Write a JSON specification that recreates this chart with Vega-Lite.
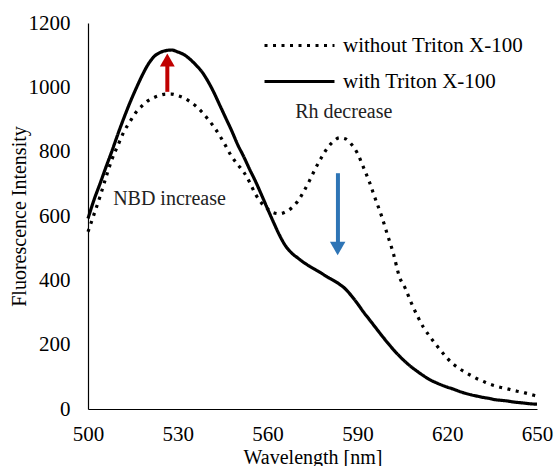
{
  "$schema": "https://vega.github.io/schema/vega-lite/v6.json",
  "autosize": "none",
  "width": 449,
  "height": 386,
  "padding": {"left": 88, "top": 23, "right": 18, "bottom": 57},
  "background": "white",
  "config": {
    "view": {"stroke": null},
    "font": "Liberation Serif",
    "axis": {"labelFont": "Liberation Serif", "titleFont": "Liberation Serif", "labelFontSize": 21, "titleFontSize": 20, "titleFontWeight": "normal", "labelColor": "#000", "titleColor": "#000", "domainColor": "#000", "domainWidth": 1.2, "ticks": false, "grid": false}
  },
  "datasets": {
    "spectra": [
      {"wl":500,"intensity":551,"series":"without Triton X-100"},
      {"wl":502,"intensity":605,"series":"without Triton X-100"},
      {"wl":504,"intensity":660,"series":"without Triton X-100"},
      {"wl":506,"intensity":720,"series":"without Triton X-100"},
      {"wl":508,"intensity":776,"series":"without Triton X-100"},
      {"wl":510,"intensity":820,"series":"without Triton X-100"},
      {"wl":512,"intensity":862,"series":"without Triton X-100"},
      {"wl":514,"intensity":893,"series":"without Triton X-100"},
      {"wl":516,"intensity":922,"series":"without Triton X-100"},
      {"wl":518,"intensity":942,"series":"without Triton X-100"},
      {"wl":520,"intensity":958,"series":"without Triton X-100"},
      {"wl":522,"intensity":968,"series":"without Triton X-100"},
      {"wl":524,"intensity":975,"series":"without Triton X-100"},
      {"wl":526,"intensity":979,"series":"without Triton X-100"},
      {"wl":528,"intensity":979,"series":"without Triton X-100"},
      {"wl":530,"intensity":974,"series":"without Triton X-100"},
      {"wl":532,"intensity":967,"series":"without Triton X-100"},
      {"wl":534,"intensity":956,"series":"without Triton X-100"},
      {"wl":536,"intensity":942,"series":"without Triton X-100"},
      {"wl":538,"intensity":924,"series":"without Triton X-100"},
      {"wl":540,"intensity":902,"series":"without Triton X-100"},
      {"wl":542,"intensity":878,"series":"without Triton X-100"},
      {"wl":544,"intensity":850,"series":"without Triton X-100"},
      {"wl":546,"intensity":818,"series":"without Triton X-100"},
      {"wl":548,"intensity":785,"series":"without Triton X-100"},
      {"wl":550,"intensity":760,"series":"without Triton X-100"},
      {"wl":552,"intensity":737,"series":"without Triton X-100"},
      {"wl":554,"intensity":705,"series":"without Triton X-100"},
      {"wl":556,"intensity":667,"series":"without Triton X-100"},
      {"wl":558,"intensity":640,"series":"without Triton X-100"},
      {"wl":560,"intensity":622,"series":"without Triton X-100"},
      {"wl":562,"intensity":610,"series":"without Triton X-100"},
      {"wl":564,"intensity":607,"series":"without Triton X-100"},
      {"wl":566,"intensity":613,"series":"without Triton X-100"},
      {"wl":568,"intensity":625,"series":"without Triton X-100"},
      {"wl":570,"intensity":645,"series":"without Triton X-100"},
      {"wl":572,"intensity":675,"series":"without Triton X-100"},
      {"wl":574,"intensity":710,"series":"without Triton X-100"},
      {"wl":576,"intensity":748,"series":"without Triton X-100"},
      {"wl":578,"intensity":782,"series":"without Triton X-100"},
      {"wl":580,"intensity":812,"series":"without Triton X-100"},
      {"wl":582,"intensity":832,"series":"without Triton X-100"},
      {"wl":584,"intensity":843,"series":"without Triton X-100"},
      {"wl":586,"intensity":840,"series":"without Triton X-100"},
      {"wl":588,"intensity":823,"series":"without Triton X-100"},
      {"wl":590,"intensity":795,"series":"without Triton X-100"},
      {"wl":592,"intensity":752,"series":"without Triton X-100"},
      {"wl":594,"intensity":706,"series":"without Triton X-100"},
      {"wl":596,"intensity":653,"series":"without Triton X-100"},
      {"wl":598,"intensity":602,"series":"without Triton X-100"},
      {"wl":600,"intensity":543,"series":"without Triton X-100"},
      {"wl":602,"intensity":484,"series":"without Triton X-100"},
      {"wl":604,"intensity":412,"series":"without Triton X-100"},
      {"wl":606,"intensity":375,"series":"without Triton X-100"},
      {"wl":608,"intensity":330,"series":"without Triton X-100"},
      {"wl":610,"intensity":290,"series":"without Triton X-100"},
      {"wl":612,"intensity":255,"series":"without Triton X-100"},
      {"wl":614,"intensity":228,"series":"without Triton X-100"},
      {"wl":616,"intensity":203,"series":"without Triton X-100"},
      {"wl":618,"intensity":180,"series":"without Triton X-100"},
      {"wl":620,"intensity":158,"series":"without Triton X-100"},
      {"wl":622,"intensity":140,"series":"without Triton X-100"},
      {"wl":624,"intensity":126,"series":"without Triton X-100"},
      {"wl":626,"intensity":114,"series":"without Triton X-100"},
      {"wl":628,"intensity":104,"series":"without Triton X-100"},
      {"wl":630,"intensity":94,"series":"without Triton X-100"},
      {"wl":632,"intensity":86,"series":"without Triton X-100"},
      {"wl":634,"intensity":78,"series":"without Triton X-100"},
      {"wl":636,"intensity":72,"series":"without Triton X-100"},
      {"wl":638,"intensity":67,"series":"without Triton X-100"},
      {"wl":640,"intensity":63,"series":"without Triton X-100"},
      {"wl":642,"intensity":58,"series":"without Triton X-100"},
      {"wl":644,"intensity":54,"series":"without Triton X-100"},
      {"wl":646,"intensity":50,"series":"without Triton X-100"},
      {"wl":648,"intensity":45,"series":"without Triton X-100"},
      {"wl":650,"intensity":40,"series":"without Triton X-100"},
      {"wl":500,"intensity":592,"series":"with Triton X-100"},
      {"wl":502,"intensity":650,"series":"with Triton X-100"},
      {"wl":504,"intensity":700,"series":"with Triton X-100"},
      {"wl":506,"intensity":752,"series":"with Triton X-100"},
      {"wl":508,"intensity":802,"series":"with Triton X-100"},
      {"wl":510,"intensity":855,"series":"with Triton X-100"},
      {"wl":512,"intensity":905,"series":"with Triton X-100"},
      {"wl":514,"intensity":952,"series":"with Triton X-100"},
      {"wl":516,"intensity":995,"series":"with Triton X-100"},
      {"wl":518,"intensity":1035,"series":"with Triton X-100"},
      {"wl":520,"intensity":1070,"series":"with Triton X-100"},
      {"wl":522,"intensity":1095,"series":"with Triton X-100"},
      {"wl":524,"intensity":1108,"series":"with Triton X-100"},
      {"wl":526,"intensity":1114,"series":"with Triton X-100"},
      {"wl":528,"intensity":1116,"series":"with Triton X-100"},
      {"wl":530,"intensity":1110,"series":"with Triton X-100"},
      {"wl":532,"intensity":1102,"series":"with Triton X-100"},
      {"wl":534,"intensity":1088,"series":"with Triton X-100"},
      {"wl":536,"intensity":1070,"series":"with Triton X-100"},
      {"wl":538,"intensity":1049,"series":"with Triton X-100"},
      {"wl":540,"intensity":1020,"series":"with Triton X-100"},
      {"wl":542,"intensity":985,"series":"with Triton X-100"},
      {"wl":544,"intensity":945,"series":"with Triton X-100"},
      {"wl":546,"intensity":905,"series":"with Triton X-100"},
      {"wl":548,"intensity":865,"series":"with Triton X-100"},
      {"wl":550,"intensity":822,"series":"with Triton X-100"},
      {"wl":552,"intensity":785,"series":"with Triton X-100"},
      {"wl":554,"intensity":745,"series":"with Triton X-100"},
      {"wl":556,"intensity":707,"series":"with Triton X-100"},
      {"wl":558,"intensity":665,"series":"with Triton X-100"},
      {"wl":560,"intensity":622,"series":"with Triton X-100"},
      {"wl":562,"intensity":580,"series":"with Triton X-100"},
      {"wl":564,"intensity":540,"series":"with Triton X-100"},
      {"wl":566,"intensity":507,"series":"with Triton X-100"},
      {"wl":568,"intensity":485,"series":"with Triton X-100"},
      {"wl":570,"intensity":470,"series":"with Triton X-100"},
      {"wl":572,"intensity":456,"series":"with Triton X-100"},
      {"wl":574,"intensity":444,"series":"with Triton X-100"},
      {"wl":576,"intensity":433,"series":"with Triton X-100"},
      {"wl":578,"intensity":422,"series":"with Triton X-100"},
      {"wl":580,"intensity":410,"series":"with Triton X-100"},
      {"wl":582,"intensity":400,"series":"with Triton X-100"},
      {"wl":584,"intensity":388,"series":"with Triton X-100"},
      {"wl":586,"intensity":373,"series":"with Triton X-100"},
      {"wl":588,"intensity":352,"series":"with Triton X-100"},
      {"wl":590,"intensity":328,"series":"with Triton X-100"},
      {"wl":592,"intensity":302,"series":"with Triton X-100"},
      {"wl":594,"intensity":278,"series":"with Triton X-100"},
      {"wl":596,"intensity":254,"series":"with Triton X-100"},
      {"wl":598,"intensity":230,"series":"with Triton X-100"},
      {"wl":600,"intensity":207,"series":"with Triton X-100"},
      {"wl":602,"intensity":185,"series":"with Triton X-100"},
      {"wl":604,"intensity":165,"series":"with Triton X-100"},
      {"wl":606,"intensity":147,"series":"with Triton X-100"},
      {"wl":608,"intensity":131,"series":"with Triton X-100"},
      {"wl":610,"intensity":117,"series":"with Triton X-100"},
      {"wl":612,"intensity":104,"series":"with Triton X-100"},
      {"wl":614,"intensity":92,"series":"with Triton X-100"},
      {"wl":616,"intensity":83,"series":"with Triton X-100"},
      {"wl":618,"intensity":75,"series":"with Triton X-100"},
      {"wl":620,"intensity":68,"series":"with Triton X-100"},
      {"wl":622,"intensity":62,"series":"with Triton X-100"},
      {"wl":624,"intensity":55,"series":"with Triton X-100"},
      {"wl":626,"intensity":49,"series":"with Triton X-100"},
      {"wl":628,"intensity":44,"series":"with Triton X-100"},
      {"wl":630,"intensity":40,"series":"with Triton X-100"},
      {"wl":632,"intensity":36,"series":"with Triton X-100"},
      {"wl":634,"intensity":33,"series":"with Triton X-100"},
      {"wl":636,"intensity":29,"series":"with Triton X-100"},
      {"wl":638,"intensity":27,"series":"with Triton X-100"},
      {"wl":640,"intensity":25,"series":"with Triton X-100"},
      {"wl":642,"intensity":22,"series":"with Triton X-100"},
      {"wl":644,"intensity":20,"series":"with Triton X-100"},
      {"wl":646,"intensity":18,"series":"with Triton X-100"},
      {"wl":648,"intensity":16,"series":"with Triton X-100"},
      {"wl":650,"intensity":15,"series":"with Triton X-100"}
    ]
  },
  "layer": [
    {
      "data": {"name": "spectra"},
      "mark": {"type": "line", "color": "#000", "strokeWidth": 3.2, "interpolate": "monotone"},
      "encoding": {
        "x": {"field": "wl", "type": "quantitative", "scale": {"domain": [500, 650], "nice": false, "zero": false},
              "axis": {"values": [500, 530, 560, 590, 620, 650], "format": "d", "title": "Wavelength [nm]", "labelFont": "Liberation Serif", "labelFontSize": 21, "labelFlush": false, "labelPadding": 14, "titlePadding": 3}},
        "y": {"field": "intensity", "type": "quantitative", "scale": {"domain": [0, 1200], "nice": false},
              "axis": {"values": [0, 200, 400, 600, 800, 1000, 1200], "format": "d", "title": "Fluorescence Intensity", "labelFont": "Liberation Serif", "labelFontSize": 21, "labelPadding": 18, "titlePadding": -1}},
        "detail": {"field": "series"},
        "strokeDash": {"field": "series", "type": "nominal",
          "scale": {"domain": ["without Triton X-100", "with Triton X-100"], "range": [[3, 5.5], [1, 0]]},
          "legend": {"title": null, "orient": "none", "legendX": 201, "legendY": 12, "padding": 0,
                     "symbolType": "M-4,0H4", "symbolSize": 306, "symbolStrokeWidth": 3.2, "symbolStrokeColor": "#000", "symbolFillColor": "transparent",
                     "labelFont": "Liberation Serif", "labelFontSize": 21, "labelColor": "#000", "labelOffset": 33, "labelLimit": 400, "rowPadding": 14}}
      }
    },
    {
      "data": {"values": [{"wl": 526.5, "y1": 986, "y2": 1080}]},
      "mark": {"type": "rule", "color": "#C00000", "strokeWidth": 4},
      "encoding": {"x": {"field": "wl", "type": "quantitative"}, "y": {"field": "y1", "type": "quantitative"}, "y2": {"field": "y2"}}
    },
    {
      "data": {"values": [{"wl": 526.5, "tip": 1085}]},
      "mark": {"type": "point", "shape": "triangle-up", "filled": true, "color": "#C00000", "size": 220, "opacity": 1},
      "encoding": {"x": {"field": "wl", "type": "quantitative"}, "y": {"field": "tip", "type": "quantitative"}}
    },
    {
      "data": {"values": [{"wl": 583.5, "y1": 733, "y2": 505}]},
      "mark": {"type": "rule", "color": "#2E75B6", "strokeWidth": 4},
      "encoding": {"x": {"field": "wl", "type": "quantitative"}, "y": {"field": "y1", "type": "quantitative"}, "y2": {"field": "y2"}}
    },
    {
      "data": {"values": [{"wl": 583.4, "tip": 499}]},
      "mark": {"type": "point", "shape": "triangle-down", "filled": true, "color": "#2E75B6", "size": 240, "opacity": 1},
      "encoding": {"x": {"field": "wl", "type": "quantitative"}, "y": {"field": "tip", "type": "quantitative"}}
    },
    {
      "data": {"values": [{"wl": 508.4, "v": 653, "label": "NBD increase"}, {"wl": 569.2, "v": 923, "label": "Rh decrease"}]},
      "mark": {"type": "text", "align": "left", "baseline": "middle", "font": "Liberation Serif", "fontSize": 20, "color": "#222"},
      "encoding": {"x": {"field": "wl", "type": "quantitative"}, "y": {"field": "v", "type": "quantitative"}, "text": {"field": "label"}}
    }
  ]
}
